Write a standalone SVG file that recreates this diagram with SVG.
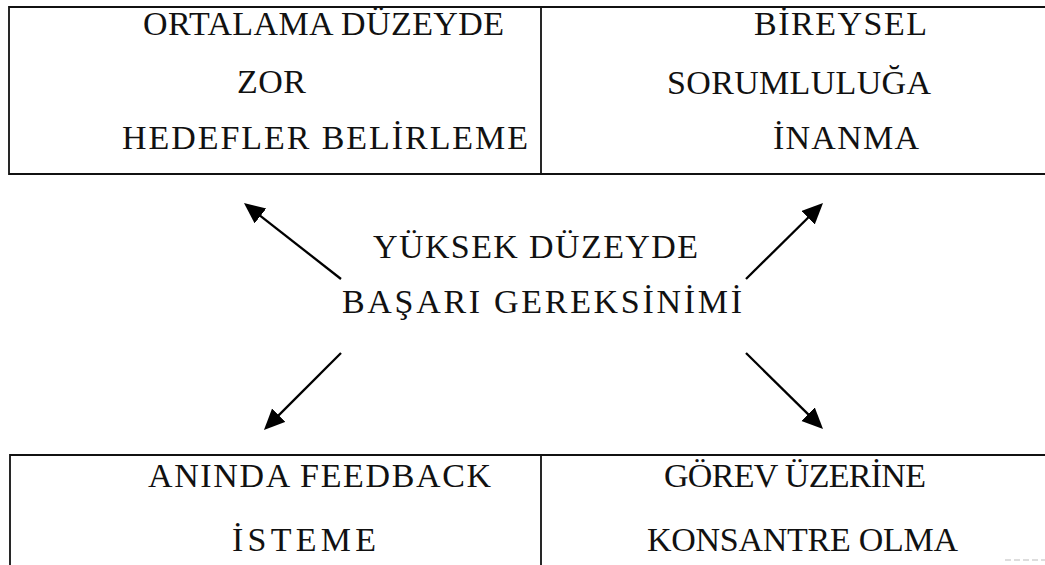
<svg xmlns="http://www.w3.org/2000/svg" width="1045" height="565" viewBox="0 0 1045 565">
<style>
  .t { font-family: "Liberation Serif", "Times New Roman", serif; font-size: 34px; fill: #111; }
  .frame { fill: none; stroke: #111; stroke-width: 1.8; }
  .arr { fill: none; stroke: #000; stroke-width: 2.3; marker-end: url(#ah); }
</style>
<defs>
  <marker id="ah" markerUnits="userSpaceOnUse" markerWidth="22" markerHeight="20" refX="1" refY="9.5" orient="auto">
    <path d="M0,0 L21,9.5 L0,19 Z" fill="#000"/>
  </marker>
</defs>
<rect width="1045" height="565" fill="#fff"/>
<g id="node-hedef">
  <path class="frame" d="M541,7 H9 V174 H541 Z"/>
  <text class="t" x="143" y="35" textLength="361" lengthAdjust="spacing">ORTALAMA DÜZEYDE</text>
  <text class="t" x="237" y="93" textLength="69" lengthAdjust="spacing">ZOR</text>
  <text class="t" x="122" y="149" textLength="406" lengthAdjust="spacing">HEDEFLER BELİRLEME</text>
</g>
<g id="node-sorumluluk">
  <path class="frame" d="M541,7 H1045 M541,174 H1045"/>
  <text class="t" x="754" y="35" textLength="173" lengthAdjust="spacing">BİREYSEL</text>
  <text class="t" x="667" y="94" textLength="264" lengthAdjust="spacing">SORUMLULUĞA</text>
  <text class="t" x="773" y="149" textLength="146" lengthAdjust="spacing">İNANMA</text>
</g>
<g id="node-basari">
  <text class="t" x="373" y="258" textLength="325" lengthAdjust="spacing">YÜKSEK DÜZEYDE</text>
  <text class="t" x="342" y="313" textLength="400" lengthAdjust="spacing">BAŞARI GEREKSİNİMİ</text>
</g>
<g id="node-feedback">
  <path class="frame" d="M10,565 V455 H541 V565"/>
  <text class="t" x="148" y="487" textLength="343" lengthAdjust="spacing">ANINDA FEEDBACK</text>
  <text class="t" x="232" y="551" textLength="144" lengthAdjust="spacing">İSTEME</text>
</g>
<g id="node-gorev">
  <path class="frame" d="M541,455 H1045"/>
  <path d="M1005,560 H1045" stroke="#bbb" stroke-width="1.2" stroke-dasharray="6,3" fill="none"/>
  <text class="t" x="664" y="487" textLength="262" lengthAdjust="spacing">GÖREV ÜZERİNE</text>
  <text class="t" x="647" y="551" textLength="311" lengthAdjust="spacing">KONSANTRE OLMA</text>
</g>
<g id="connectors">
  <line class="arr" x1="341" y1="279" x2="259.7" y2="215.3"/>
  <line class="arr" x1="746" y1="279" x2="808.8" y2="217"/>
  <line class="arr" x1="341" y1="353" x2="278.1" y2="415.9"/>
  <line class="arr" x1="746" y1="353" x2="808.8" y2="414.9"/>
</g>
</svg>
